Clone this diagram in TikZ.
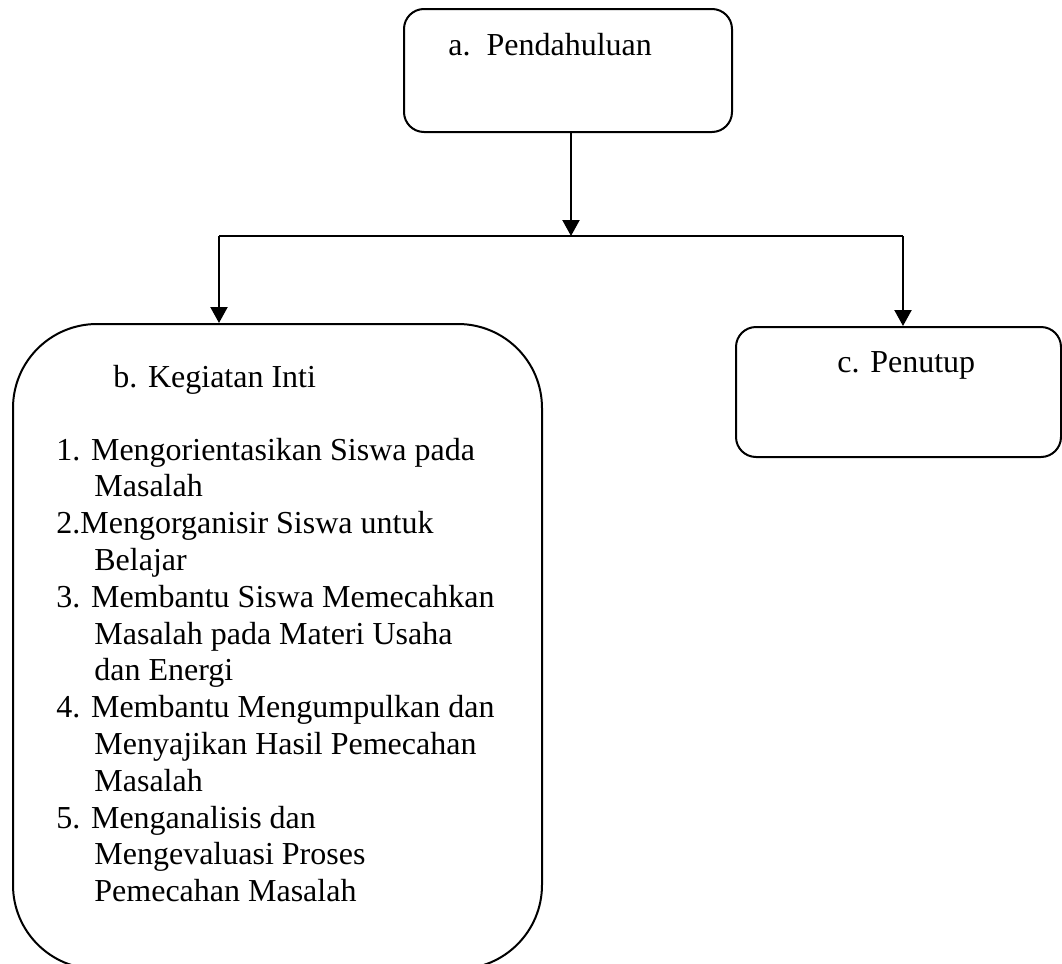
\documentclass[tikz,border=0pt]{standalone}
\usepackage{fontspec}
\setmainfont{Liberation Serif}
\usetikzlibrary{arrows.meta}
\begin{document}
\begin{tikzpicture}[x=0.5pt,y=-0.5pt,
  box/.style={draw, line width=1pt, rectangle, inner sep=0pt, anchor=north west},
  lbl/.style={inner sep=0pt, anchor=base west, font=\fontsize{16}{18.4}\selectfont},
  conn/.style={line width=1.1pt},
  arr/.style={conn, -{Triangle[width=8.5pt,length=8pt]}}]
\useasboundingbox (0,0) rectangle (1062,964);
% boxes
\node[box, rounded corners=10pt, minimum width=164pt, minimum height=61.5pt] (boxA) at (403,8) {};
\node[box, rounded corners=42pt, minimum width=264.5pt, minimum height=322.5pt] (boxB) at (12,323) {};
\node[box, rounded corners=10pt, minimum width=162.5pt, minimum height=65pt] (boxC) at (735,326) {};
% labels
\node[lbl] (labA) at (448,55) {a.\ \ Pendahuluan};
\node[lbl] (labB) at (113,387) {b. Kegiatan Inti};
\node[lbl] (labC) at (837,372) {c. Penutup};
\foreach \i/\x/\t in {0/56/{1. Mengorientasikan Siswa pada},
  1/94/{Masalah},
  2/56/{2.Mengorganisir Siswa untuk},
  3/94/{Belajar},
  4/56/{3. Membantu Siswa Memecahkan},
  5/94/{Masalah pada Materi Usaha},
  6/94/{dan Energi},
  7/56/{4. Membantu Mengumpulkan dan},
  8/94/{Menyajikan Hasil Pemecahan},
  9/94/{Masalah},
  10/56/{5. Menganalisis dan},
  11/94/{Mengevaluasi Proses},
  12/94/{Pemecahan Masalah}}
  \node[lbl] (line\i) at (\x,460+\i*36.8) {\t};
% connectors
\coordinate (split) at (571,236);
\coordinate (jl) at (219,236);
\coordinate (jr) at (903,236);
\draw[arr] (split |- boxA.south) -- (split);
\draw[conn] (jl) -- (jr);
\draw[arr] (jl) -- (jl |- boxB.north);
\draw[arr] (jr) -- (jr |- boxC.north);
\end{tikzpicture}
\end{document}
